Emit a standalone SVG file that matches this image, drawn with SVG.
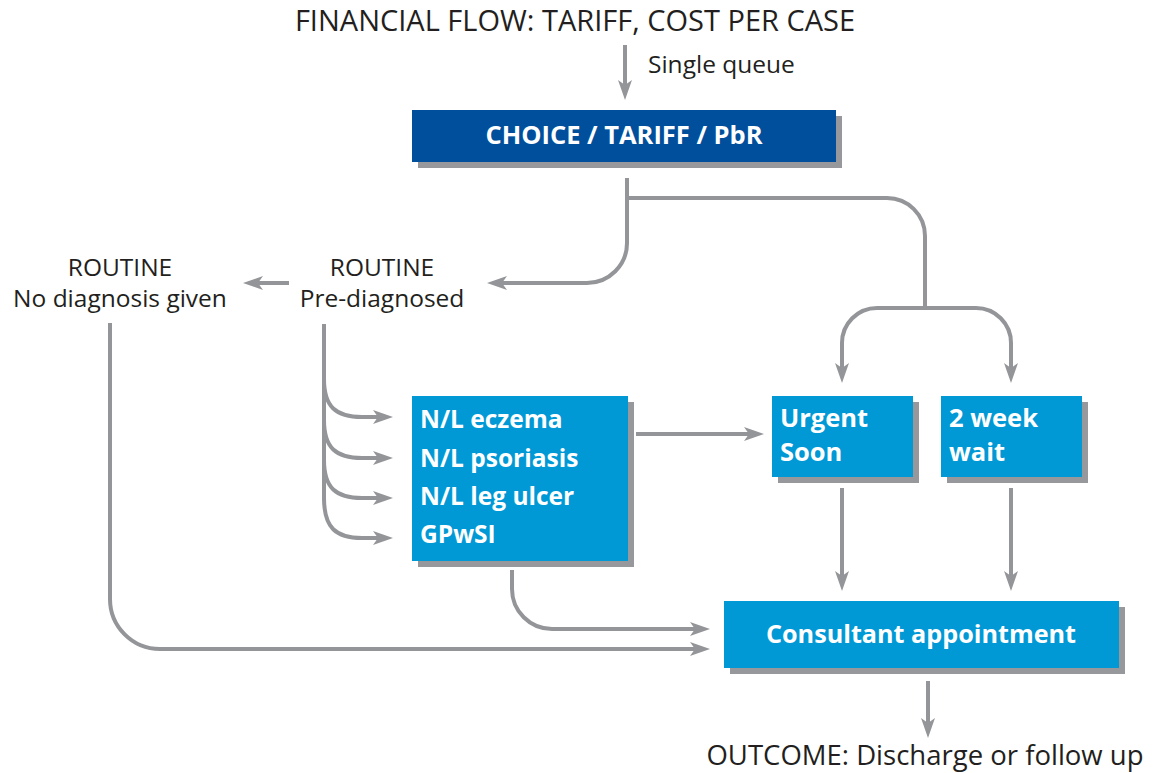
<svg xmlns="http://www.w3.org/2000/svg" width="1161" height="773" viewBox="0 0 1161 773">
<style>
  .bg { fill: #ffffff; }
  .shadow { fill: #97989b; }
  .dark { fill: #004f9c; }
  .light { fill: #0099d6; }
  .conn { fill: none; stroke: #949599; stroke-width: 4; marker-end: url(#arrow); }
  .plain { fill: none; stroke: #949599; stroke-width: 4; }
  .lbl { font-family: "Open Sans", "Liberation Sans", sans-serif; fill: #231f20; }
  .bt { font-family: "Open Sans", "Liberation Sans", sans-serif; font-weight: bold; fill: #ffffff; }
</style>
<defs>
  <marker id="arrow" viewBox="0 0 20 14" refX="6" refY="7" markerWidth="20" markerHeight="14" markerUnits="userSpaceOnUse" orient="auto">
    <path d="M0,0 L20,7 L0,14 L5,7 z" fill="#949599"/>
  </marker>
</defs>
<rect class="bg" x="0" y="0" width="1161" height="773"/>

<g id="connectors">
  <path class="conn" d="M625,45 V86"/>
  <path class="conn" d="M627,178 V243 A40,40 0 0 1 587,283 H501"/>
  <path class="plain" d="M627,198 H887 A38,38 0 0 1 925,236 V308"/>
  <path class="conn" d="M925,308 H877 A35,35 0 0 0 842,343 V369"/>
  <path class="conn" d="M925,308 H976 A35,35 0 0 1 1011,343 V369"/>
  <path class="conn" d="M289,283 H257"/>
  <path class="plain" d="M324,324 V500"/>
  <path class="conn" d="M324,379 C324,407 336,417 362,417 H379"/>
  <path class="conn" d="M324,420 C324,448 336,458 362,458 H379"/>
  <path class="conn" d="M324,460 C324,488 336,498 362,498 H379"/>
  <path class="conn" d="M324,498 C324,528 336,538 362,538 H379"/>
  <path class="conn" d="M636,434 H750"/>
  <path class="conn" d="M842,488 V577"/>
  <path class="conn" d="M1011,488 V577"/>
  <path class="conn" d="M512,570 V589 A40,40 0 0 0 552,629 H696"/>
  <path class="conn" d="M110,323 V599 A50,50 0 0 0 160,649 H696"/>
  <path class="conn" d="M928,681 V724"/>
</g>

<g id="title">
  <text class="lbl" x="575" y="31" font-size="29" text-anchor="middle">FINANCIAL FLOW: TARIFF, COST PER CASE</text>
</g>
<g id="single-queue">
  <text class="lbl" x="648" y="73" font-size="24.5">Single queue</text>
</g>

<g id="choice">
  <rect class="shadow" x="418" y="116" width="424" height="52"/>
  <rect class="dark" x="412" y="110" width="424" height="52"/>
  <text class="bt" x="624" y="144" font-size="25.5" text-anchor="middle">CHOICE / TARIFF / PbR</text>
</g>

<g id="routine-none">
  <text class="lbl" x="120" y="276" font-size="24.5" text-anchor="middle">ROUTINE</text>
  <text class="lbl" x="120" y="307" font-size="24.5" text-anchor="middle">No diagnosis given</text>
</g>

<g id="routine-pre">
  <text class="lbl" x="382" y="276" font-size="24.5" text-anchor="middle">ROUTINE</text>
  <text class="lbl" x="382" y="307" font-size="24.5" text-anchor="middle">Pre-diagnosed</text>
</g>

<g id="conditions">
  <rect class="shadow" x="418" y="402" width="216" height="165"/>
  <rect class="light" x="412" y="396" width="216" height="165"/>
  <text class="bt" x="420" y="428" font-size="24.5">N/L eczema</text>
  <text class="bt" x="420" y="467" font-size="24.5">N/L psoriasis</text>
  <text class="bt" x="420" y="505" font-size="24.5">N/L leg ulcer</text>
  <text class="bt" x="420" y="543" font-size="24.5">GPwSI</text>
</g>

<g id="urgent">
  <rect class="shadow" x="778" y="402" width="141" height="81"/>
  <rect class="light" x="772" y="396" width="141" height="81"/>
  <text class="bt" x="780" y="427" font-size="25.5">Urgent</text>
  <text class="bt" x="780" y="461" font-size="25.5">Soon</text>
</g>

<g id="two-week">
  <rect class="shadow" x="947" y="402" width="141" height="81"/>
  <rect class="light" x="941" y="396" width="141" height="81"/>
  <text class="bt" x="949" y="427" font-size="25.5">2 week</text>
  <text class="bt" x="949" y="461" font-size="25.5">wait</text>
</g>

<g id="consultant">
  <rect class="shadow" x="730" y="607" width="395" height="67"/>
  <rect class="light" x="724" y="601" width="395" height="67"/>
  <text class="bt" x="921" y="643" font-size="25.2" text-anchor="middle">Consultant appointment</text>
</g>

<g id="outcome">
  <text class="lbl" x="925" y="765" font-size="27.5" text-anchor="middle">OUTCOME: Discharge or follow up</text>
</g>
</svg>
